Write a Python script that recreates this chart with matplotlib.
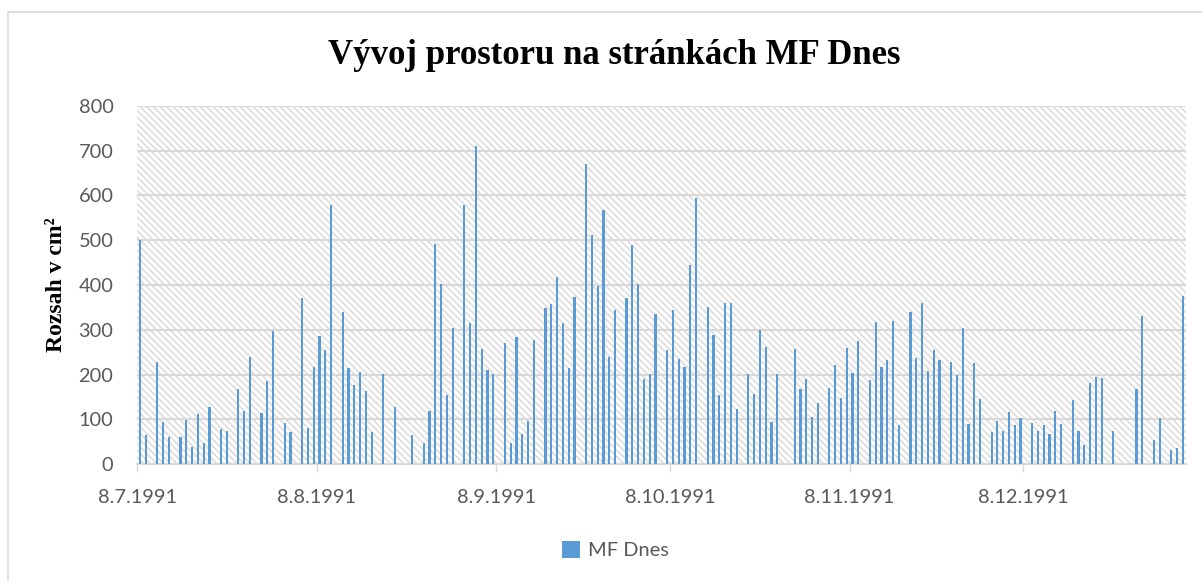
import pandas as pd
import numpy as np
import matplotlib
matplotlib.use('Agg')
import matplotlib.pyplot as plt
import matplotlib.dates as mdates
from matplotlib.patches import Rectangle
from matplotlib.ticker import FuncFormatter, MultipleLocator

# Data: day offset from 8.7.1991 and area in cm2
start = pd.Timestamp('1991-07-08')
den = [0, 1, 3, 4, 5, 7, 8, 9, 10, 11, 12, 14, 15, 17, 18, 19, 21, 22, 23, 25,
       26, 28, 29, 30, 31, 32, 33, 35, 36, 37, 38, 39, 40, 42, 44, 47, 49, 50, 51, 52,
       53, 54, 56, 57, 58, 59, 60, 61, 63, 64, 65, 66, 67, 68, 70, 71, 72, 73, 74, 75,
       77, 78, 79, 80, 81, 82, 84, 85, 86, 87, 88, 89, 91, 92, 93, 94, 95, 96, 98, 99,
       100, 101, 102, 103, 105, 106, 107, 108, 109, 110, 113, 114, 115, 116, 117, 119, 120, 121, 122, 123,
       124, 126, 127, 128, 129, 130, 131, 133, 134, 135, 136, 137, 138, 140, 141, 142, 143, 144, 145, 147,
       148, 149, 150, 151, 152, 154, 155, 156, 157, 158, 159, 161, 162, 163, 164, 165, 166, 168, 172, 173,
       175, 176, 178, 179, 180]
rozsah = [500, 65, 228, 94, 62, 62, 99, 38, 112, 47, 127, 79, 74, 168, 119, 239, 114, 186, 297, 92,
          73, 370, 82, 216, 286, 255, 578, 340, 215, 178, 206, 164, 72, 201, 128, 65, 48, 119, 491, 402,
          154, 303, 578, 315, 711, 257, 211, 201, 271, 48, 284, 68, 96, 277, 349, 358, 417, 315, 214, 373,
          670, 512, 398, 567, 240, 345, 371, 490, 402, 190, 201, 336, 255, 344, 236, 216, 445, 595, 350, 288,
          155, 360, 360, 123, 201, 156, 300, 262, 94, 202, 257, 167, 190, 106, 137, 170, 222, 147, 259, 203,
          275, 189, 317, 217, 232, 320, 88, 340, 237, 360, 208, 254, 232, 228, 200, 304, 89, 225, 146, 72,
          96, 74, 117, 88, 103, 92, 74, 88, 68, 120, 90, 143, 74, 43, 181, 194, 193, 74, 168, 331,
          54, 103, 31, 36, 375]
pocet_dni = 181
y_ticks = [0, 100, 200, 300, 400, 500, 600, 700, 800]

datumy = start + pd.to_timedelta(den, unit='D')

plt.rcParams['font.family'] = ['Lato', 'DejaVu Sans']
plt.rcParams['hatch.linewidth'] = 1.2
seda = '#595959'
mrizka = '#d9d9d9'

fig = plt.figure(figsize=(12.02, 5.81), dpi=100)
ax = fig.add_axes([137 / 1202, 1 - 464.3 / 581, (1185.7 - 137) / 1202, (464.3 - 105.7) / 581])

# hatched plot area
ax.add_patch(Rectangle((0, 0), 1, 1, transform=ax.transAxes, facecolor='white',
                       edgecolor='#dcdcdc', lw=0, hatch='\\\\\\\\\\', zorder=0))
ax.set_axisbelow(True)
ax.yaxis.grid(True, color=mrizka, lw=1.5, zorder=1)

x = mdates.date2num(datumy) + 0.5
ax.bar(x, rozsah, width=0.38, color='#5B9BD5', zorder=3, label='MF Dnes')

ax.set_xlim(mdates.date2num(start), mdates.date2num(start) + pocet_dni)
ax.set_ylim(0, 800)
ax.set_yticks(y_ticks)
ax.xaxis.set_major_locator(mdates.MonthLocator(bymonthday=8))
ax.xaxis.set_major_formatter(FuncFormatter(
    lambda v, p: f'{mdates.num2date(v).day}.{mdates.num2date(v).month}.{mdates.num2date(v).year}'))

for s in ['top', 'right', 'left']:
    ax.spines[s].set_visible(False)
ax.spines['bottom'].set_color(mrizka)
ax.spines['bottom'].set_linewidth(1.5)
ax.tick_params(axis='y', length=0, pad=17, labelsize=14.4, labelcolor=seda)
ax.tick_params(axis='x', length=6, width=1, color=mrizka, pad=12, labelsize=14.4, labelcolor=seda)

fig.text(614 / 1202, 1 - 55 / 581, 'Vývoj prostoru na stránkách MF Dnes', ha='center', va='center',
         fontsize=25, fontweight='bold', family=['Liberation Serif', 'DejaVu Serif'])
fig.text(57 / 1202, 1 - 285 / 581, 'Rozsah v cm²', rotation=90, ha='center', va='center',
         fontsize=17, fontweight='bold', family=['Liberation Serif', 'DejaVu Serif'])

fig.legend(loc='center', bbox_to_anchor=(615 / 1202, 1 - 550 / 581), frameon=False,
           handlelength=0.9, handleheight=0.9, handletextpad=0.4, fontsize=14.4, labelcolor=seda)

# chart border
fig.patches.append(Rectangle((8 / 1202, -0.05), 1.1, 1 - 12.5 / 581 + 0.05, transform=fig.transFigure,
                             fill=False, edgecolor=mrizka, lw=1.2))

plt.savefig('out.png', dpi=100)
